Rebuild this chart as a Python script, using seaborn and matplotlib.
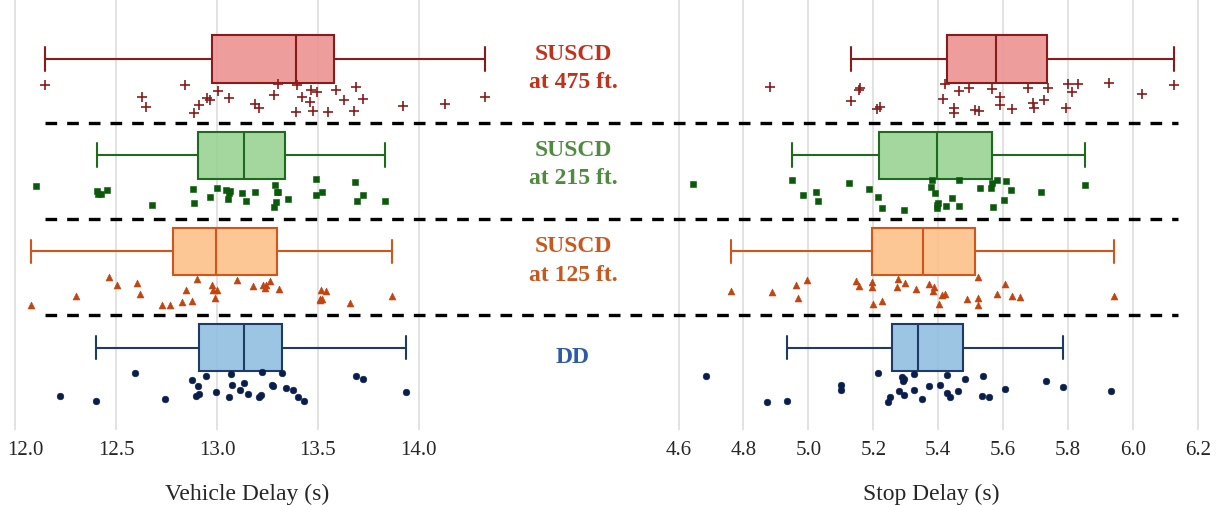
import numpy as np
import pandas as pd
import seaborn as sns
import matplotlib.pyplot as plt
import matplotlib.transforms as mtransforms
from matplotlib.lines import Line2D
from matplotlib.colors import to_rgba

# groups, top row to bottom row
groups = ["SUSCD\nat 475 ft.", "SUSCD\nat 215 ft.", "SUSCD\nat 125 ft.", "DD"]

# vehicle delay (s)
veh_475 = [12.149, 12.648, 12.628, 12.909, 12.888, 12.964, 12.950, 12.841, 13.003, 13.058,
           13.187, 13.207, 13.281, 13.397, 13.496, 13.474, 13.464, 13.423, 13.390, 13.301,
           13.461, 13.550, 13.592, 13.631, 13.678, 13.691, 13.724, 13.921, 14.129, 14.331]
veh_215 = [12.101, 12.410, 12.405, 12.425, 12.456, 12.676, 12.888, 12.879, 12.965, 13.000,
           13.058, 13.046, 13.056, 13.066, 13.124, 13.145, 13.190, 13.281, 13.289, 13.291,
           13.304, 13.298, 13.350, 13.493, 13.522, 13.491, 13.684, 13.696, 13.724, 13.833]
veh_125 = [12.079, 12.302, 12.463, 12.506, 12.618, 12.605, 12.729, 12.767, 12.825, 12.846,
           12.876, 12.902, 12.975, 13.000, 12.988, 12.980, 13.098, 13.179, 13.228, 13.243,
           13.264, 13.240, 13.309, 13.522, 13.509, 13.539, 13.514, 13.509, 13.661, 13.869]
veh_dd = [12.220, 12.400, 12.593, 12.742, 12.878, 12.906, 12.898, 12.909, 12.945, 12.995,
          13.069, 13.132, 13.060, 13.076, 13.112, 13.152, 13.210, 13.220, 13.225, 13.274,
          13.279, 13.324, 13.342, 13.375, 13.400, 13.433, 13.688, 13.724, 13.937]

# stop delay (s)
stop_475 = [4.883, 5.155, 5.130, 5.159, 5.221, 5.210, 5.421, 5.414, 5.448, 5.449,
            5.465, 5.495, 5.512, 5.527, 5.565, 5.589, 5.591, 5.627, 5.678, 5.691,
            5.694, 5.726, 5.739, 5.800, 5.812, 5.794, 5.830, 5.925, 6.027, 6.127]
stop_215 = [4.643, 4.949, 4.984, 5.031, 5.022, 5.126, 5.187, 5.213, 5.226, 5.294,
            5.378, 5.381, 5.395, 5.395, 5.390, 5.398, 5.424, 5.444, 5.463, 5.463,
            5.530, 5.563, 5.567, 5.568, 5.582, 5.604, 5.610, 5.624, 5.717, 5.853]
stop_125 = [4.763, 4.889, 4.963, 4.968, 4.995, 5.146, 5.155, 5.195, 5.197, 5.200,
            5.228, 5.277, 5.274, 5.298, 5.332, 5.373, 5.384, 5.401, 5.386, 5.412,
            5.420, 5.490, 5.523, 5.524, 5.523, 5.580, 5.607, 5.626, 5.653, 5.941]
stop_dd = [4.685, 4.874, 4.934, 5.101, 5.101, 5.213, 5.246, 5.250, 5.278, 5.295,
           5.287, 5.293, 5.296, 5.326, 5.326, 5.351, 5.373, 5.407, 5.427, 5.427,
           5.436, 5.460, 5.482, 5.534, 5.539, 5.557, 5.607, 5.733, 5.786, 5.931]

veh_ticks = [12.0, 12.5, 13.0, 13.5, 14.0]
stop_ticks = [4.6, 4.8, 5.0, 5.2, 5.4, 5.6, 5.8, 6.0, 6.2]

# styles
box_fill = ["#EC9090", "#96D291", "#FDBE86", "#8FBDE0"]
box_edge = ["#8B1A1A", "#1E6B1E", "#D0561C", "#1F3A68"]
pt_color = ["#8B1A1A", "#0B5A0B", "#C4440F", "#0A1E4D"]
pt_marker = ["+", "s", "^", "o"]
pt_size = [7, 4.5, 5, 4.8]
txt_color = ["#C0321A", "#4F8B3E", "#C8581E", "#2D5BA6"]

rows = []
for i, g in enumerate(groups):
    for v in [veh_475, veh_215, veh_125, veh_dd][i]:
        rows.append({"panel": "veh", "group": g, "row": i, "delay": v})
    for v in [stop_475, stop_215, stop_125, stop_dd][i]:
        rows.append({"panel": "stop", "group": g, "row": i, "delay": v})
df = pd.DataFrame(rows)

sns.set_style("whitegrid")
plt.rcParams["font.family"] = ["Liberation Serif", "DejaVu Serif"]
np.random.seed(7)

fig = plt.figure(figsize=(12.2, 5.05), dpi=100)
ax1 = fig.add_axes([0.001, 0.1485, 0.4033, 0.8515])
ax2 = fig.add_axes([0.5429, 0.1485, 0.4416, 0.8515])

for ax, panel, ticks, xlim, xlabel in [
    (ax1, "veh", veh_ticks, (11.93, 14.37), "Vehicle Delay (s)"),
    (ax2, "stop", stop_ticks, (4.55, 6.21), "Stop Delay (s)"),
]:
    for i, g in enumerate(groups):
        d = df[(df["panel"] == panel) & (df["group"] == g)]
        sns.boxplot(x=d["delay"], y=d["row"], orient="h", native_scale=True,
                    width=0.49, whis=1.5, showfliers=False, saturation=1,
                    color=box_fill[i], linecolor=box_edge[i], linewidth=1.5, ax=ax)
        ax.patches[-1].set_facecolor(to_rgba(box_fill[i], 0.88))
        sns.stripplot(x=d["delay"], y=d["row"] + 0.41, orient="h", native_scale=True,
                      jitter=0.16, marker=pt_marker[i], color=pt_color[i],
                      edgecolor=pt_color[i], size=pt_size[i],
                      linewidth=1.2 if pt_marker[i] == "+" else 0.4, ax=ax)
    ax.set_xlim(*xlim)
    ax.set_ylim(3.857, -0.613)
    ax.set_xticks(ticks)
    ax.set_xticklabels([f"{t:.1f}" for t in ticks])
    ax.set_yticks([])
    ax.set_ylabel("")
    ax.set_xlabel(xlabel, fontsize=17, labelpad=17)
    ax.tick_params(axis="x", length=0, pad=8, labelsize=15)
    ax.grid(axis="x", color="#DDDDDD", linewidth=1.2)
    ax.grid(axis="y", visible=False)
    ax.set_axisbelow(True)
    for s in ax.spines.values():
        s.set_visible(False)
    ax.patch.set_alpha(0)

# keep the first left tick label inside the figure
first = ax1.get_xticklabels()[0]
first.set_transform(first.get_transform() +
                    mtransforms.ScaledTranslation(10 / 100, 0, fig.dpi_scale_trans))

# group names between the panels and dashed separators
blend = mtransforms.blended_transform_factory(fig.transFigure, ax1.transData)
for i, g in enumerate(groups):
    fig.text(0.4697, i + 0.1, g, transform=blend, ha="center", va="center",
             fontsize=17, fontweight="bold", color=txt_color[i], linespacing=1.45)
    if i < len(groups) - 1:
        fig.add_artist(Line2D([45 / 1220, 1178 / 1220], [i + 0.665, i + 0.665],
                              transform=blend, color="black", lw=2.4,
                              dashes=(3.5, 3.0)))

fig.savefig("out.png", dpi=100)
